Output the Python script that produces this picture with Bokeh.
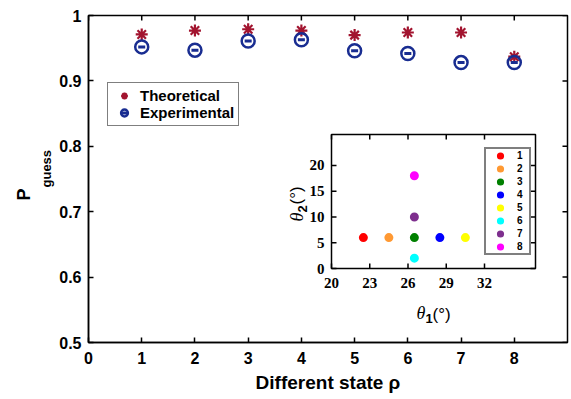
from bokeh.plotting import figure
from bokeh.models import (Range1d, Label, Legend, LegendItem, FixedTicker, Title)
from bokeh.embed import file_html
from bokeh.resources import INLINE
import math

# ---------------- data ----------------
states = [1, 2, 3, 4, 5, 6, 7, 8]
theoretical = [0.971, 0.977, 0.979, 0.977, 0.970, 0.974, 0.974, 0.937]
experimental = [0.952, 0.947, 0.961, 0.963, 0.946, 0.942, 0.928, 0.928]

x_ticks = [0, 1, 2, 3, 4, 5, 6, 7, 8]
y_ticks = [0.5, 0.6, 0.7, 0.8, 0.9, 1.0]

inset_labels = ["1", "2", "3", "4", "5", "6", "7", "8"]
theta1 = [22.5, 24.5, 26.5, 28.5, 30.5, 26.5, 26.5, 26.5]
theta2 = [6, 6, 6, 6, 6, 2, 10, 18]
inset_colors = ["#FF0000", "#FF9933", "#008000", "#0000FF",
                "#FFFF00", "#00FFFF", "#7E2F8E", "#FF00FF"]
inset_x_ticks = [20, 23, 26, 29, 32]
inset_y_ticks = [0, 5, 10, 15, 20]

SANS = "Liberation Sans"
SERIF = "Liberation Serif"
THEO_COLOR = "#A2142F"
EXP_COLOR = "#192D91"

# ---------------- layout constants (pixels) ----------------
FW, FH = 479, 327            # main frame
X0, X1, Y0, Y1 = 0, 9, 0.5, 1.0
PXX = FW / (X1 - X0)
PXY = FH / (Y1 - Y0)
TICK = 5
IL, IT, IW, IH = 243, 119, 204, 134   # inset frame inside main frame
IX0, IX1, IY0, IY1 = 20, 36, 0, 26
ipx = IW / (IX1 - IX0)
ipy = IH / (IY1 - IY0)

p = figure(frame_width=FW, frame_height=FH,
           x_range=Range1d(X0, X1), y_range=Range1d(Y0, Y1),
           output_backend="svg", toolbar_location=None,
           min_border_left=88, min_border_right=4,
           min_border_top=15, min_border_bottom=57)
p.xgrid.visible = False
p.ygrid.visible = False
p.outline_line_color = "black"
p.outline_line_width = 1.5
p.background_fill_color = "white"
p.border_fill_color = "white"

p.extra_x_ranges = {"ix": Range1d(IX0 - IL / ipx, IX1 + (FW - IL - IW) / ipx)}
p.extra_y_ranges = {"iy": Range1d(IY0 - (FH - IT - IH) / ipy, IY1 + IT / ipy)}


def style_axis(ax, ticks, standoff):
    ax.ticker = FixedTicker(ticks=ticks)
    ax.major_tick_in = TICK
    ax.major_tick_out = 0
    ax.minor_tick_in = 0
    ax.minor_tick_out = 0
    ax.axis_line_width = 1.5
    ax.axis_line_color = "black"
    ax.major_tick_line_width = 1.5
    ax.major_tick_line_color = "black"
    ax.major_label_text_font = SANS
    ax.major_label_text_font_style = "bold"
    ax.major_label_text_font_size = "16px"
    ax.major_label_text_color = "black"
    ax.major_label_standoff = standoff


style_axis(p.xaxis[0], x_ticks, 9)
style_axis(p.yaxis[0], y_ticks, 7)
p.yaxis[0].major_label_overrides = {1: "1"}

p.xaxis[0].axis_label = "Different state ρ"
p.xaxis[0].axis_label_text_font = SANS
p.xaxis[0].axis_label_text_font_style = "bold"
p.xaxis[0].axis_label_text_font_size = "19px"
p.xaxis[0].axis_label_text_color = "black"
p.xaxis[0].axis_label_standoff = 5

# y title: P with subscript "guess"
p.add_layout(Title(text="guess", align="left", offset=155, standoff=6,
                   text_font=SANS, text_font_style="bold",
                   text_font_size="13px", text_color="black"), "left")
p.add_layout(Title(text="P", align="left", offset=142, standoff=0,
                   text_font=SANS, text_font_style="bold",
                   text_font_size="18px", text_color="black"), "left")

# mirrored inward ticks on top and right of the main frame
p.segment(x0=x_ticks, x1=x_ticks, y0=[Y1] * len(x_ticks),
          y1=[Y1 - TICK / PXY] * len(x_ticks), line_color="black", line_width=1.5)
p.segment(x0=[X1] * len(y_ticks), x1=[X1 - TICK / PXX] * len(y_ticks),
          y0=y_ticks, y1=y_ticks, line_color="black", line_width=1.5)

r_theo = p.scatter(states, theoretical, marker="asterisk", size=12,
                   line_color=THEO_COLOR, line_width=2.2)
r_exp = p.scatter(states, experimental, marker="circle", size=13,
                  fill_color=None, line_color=EXP_COLOR, line_width=2.5)
r_bar = p.scatter(states, experimental, marker="dash", size=7,
                  line_color=EXP_COLOR, line_width=3)

leg = Legend(items=[LegendItem(label="Theoretical", renderers=[r_theo]),
                    LegendItem(label="Experimental", renderers=[r_exp, r_bar])],
             location=(19, 216))
leg.label_text_font = SANS
leg.label_text_font_style = "bold"
leg.label_text_font_size = "15px"
leg.label_text_color = "black"
leg.glyph_width = 24
leg.glyph_height = 17
leg.label_height = 17
leg.spacing = 0
leg.padding = 4
leg.margin = 0
leg.label_standoff = 4
leg.border_line_color = "black"
leg.border_line_width = 1.5
leg.background_fill_alpha = 1
p.add_layout(leg)

# ---------------- inset ----------------
ir = dict(x_range_name="ix", y_range_name="iy")
p.quad(left=[IX0], right=[IX1], bottom=[IY0], top=[IY1], fill_color="white",
       line_color="black", line_width=1.5, **ir)
n_x, n_y = len(inset_x_ticks), len(inset_y_ticks)
p.segment(x0=inset_x_ticks, x1=inset_x_ticks, y0=[IY0] * n_x,
          y1=[IY0 + TICK / ipy] * n_x, line_color="black", line_width=1.5, **ir)
p.segment(x0=inset_x_ticks, x1=inset_x_ticks, y0=[IY1] * n_x,
          y1=[IY1 - TICK / ipy] * n_x, line_color="black", line_width=1.5, **ir)
p.segment(x0=[IX0] * n_y, x1=[IX0 + TICK / ipx] * n_y, y0=inset_y_ticks,
          y1=inset_y_ticks, line_color="black", line_width=1.5, **ir)
p.segment(x0=[IX1] * n_y, x1=[IX1 - TICK / ipx] * n_y, y0=inset_y_ticks,
          y1=inset_y_ticks, line_color="black", line_width=1.5, **ir)
p.text(x=inset_x_ticks, y=[IY0] * n_x, text=[str(t) for t in inset_x_ticks],
       y_offset=9, text_align="center", text_baseline="top",
       text_font=SANS, text_font_style="bold", text_font_size="15px",
       text_color="black", **ir)
p.text(x=[IX0] * n_y, y=inset_y_ticks, text=[str(t) for t in inset_y_ticks],
       x_offset=-7, text_align="right", text_baseline="middle",
       text_font=SANS, text_font_style="bold", text_font_size="15px",
       text_color="black", **ir)

items = []
for lab_, t1, t2, col in zip(inset_labels, theta1, theta2, inset_colors):
    r = p.scatter([t1], [t2], marker="circle", size=7,
                  fill_color=col, line_color=col, line_width=2, **ir)
    items.append(LegendItem(label=lab_, renderers=[r]))

ileg = Legend(items=items, location=(396, 87))
ileg.label_text_font = SANS
ileg.label_text_font_style = "bold"
ileg.label_text_font_size = "10px"
ileg.label_text_color = "black"
ileg.glyph_width = 28
ileg.glyph_height = 13
ileg.label_height = 13
ileg.label_width = 12
ileg.spacing = 0
ileg.padding = 0
ileg.margin = 0
ileg.label_standoff = 3
ileg.border_line_color = "black"
ileg.border_line_width = 2
p.add_layout(ileg)


def lab(x, y, text, font=SANS, style="bold", size="14px", angle=0.0):
    p.add_layout(Label(x=x, y=y, x_units="screen", y_units="screen",
                       text=text, angle=angle, text_font=font,
                       text_font_style=style, text_font_size=size,
                       text_color="black", text_baseline="alphabetic",
                       text_align="left"))


# inset axis titles
lab(328, 30, "θ", font=SERIF, style="italic", size="18px")
lab(337, 24, "1", size="13px")
lab(344, 28, "(°)", style="normal", size="17px")
lab(208, 121, "θ", font=SERIF, style="italic", size="18px", angle=math.pi / 2)
lab(214, 130, "2", size="13px", angle=math.pi / 2)
lab(208, 138, "(°)", style="normal", size="17px", angle=math.pi / 2)

open("out.html", "w").write(file_html(p, INLINE))
